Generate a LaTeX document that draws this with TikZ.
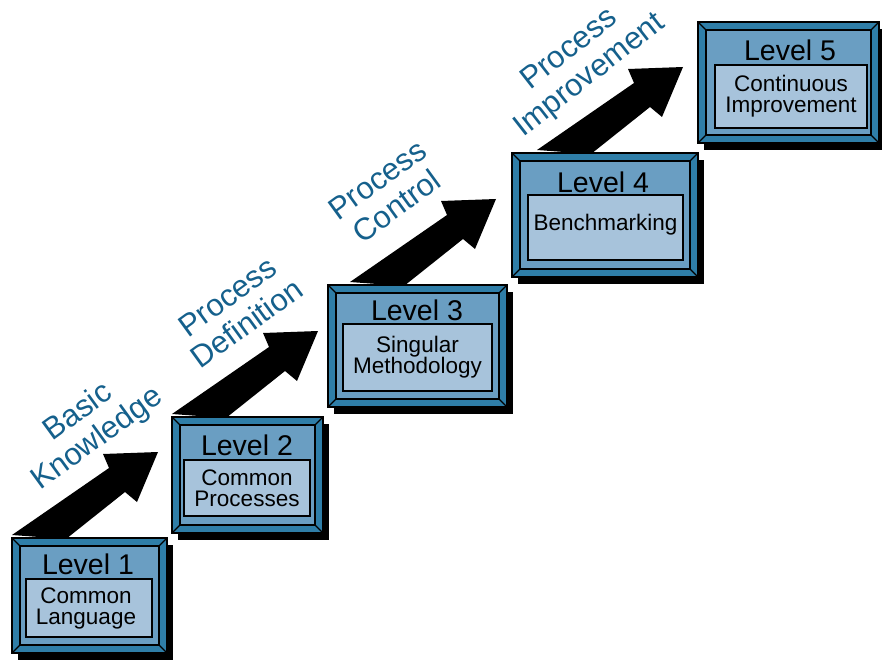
\documentclass[tikz,border=0pt]{standalone}
\usepackage{fontspec}
\setmainfont{Liberation Sans}
\usetikzlibrary{calc,fit,backgrounds}
\definecolor{bevelc}{HTML}{2F7EA8}
\definecolor{facec}{HTML}{6A9EC2}
\definecolor{labc}{HTML}{A7C3DB}
\definecolor{labtext}{HTML}{15608C}
\tikzset{
  bevelbox/.style={draw=black, fill=bevelc, line width=2pt, inner sep=0pt, outer sep=0pt},
  facebox/.style={draw=black, fill=facec, line width=1.3pt},
  cornerline/.style={draw=black, line width=1.2pt},
  labbox/.style={draw=black, fill=labc, line width=2pt, inner sep=0pt, outer sep=0pt},
  boxshadow/.style={fill=black},
  lvltext/.style={font=\fontsize{28.5}{28}\selectfont, inner sep=0pt},
  intext/.style={font=\fontsize{22.5}{21}\selectfont, align=center, inner sep=0pt},
  steptext/.style={text=labtext, font=\fontsize{31}{33}\selectfont, align=center, rotate=36, inner sep=0pt},
  bigarrow/.style={fill=black}
}
\newcommand\lvlbox[9]{%
  \fill[boxshadow] (#2+6,#3+7) rectangle (#4+6,#5+7);
  \coordinate (#1nw) at (#2,#3);
  \coordinate (#1se) at (#4,#5);
  \node[bevelbox, fit=(#1nw)(#1se)] (#1) {};
  \draw[facebox] (#2+8,#3+8) rectangle (#4-8,#5-8);
  \draw[cornerline] (#2,#3) -- (#2+8,#3+8) (#4,#3) -- (#4-8,#3+8)
    (#2,#5) -- (#2+8,#5-8) (#4,#5) -- (#4-8,#5-8);
  \coordinate (#1lnw) at (#6,#7);
  \coordinate (#1lse) at (#8,#9);
  \node[labbox, fit=(#1lnw)(#1lse)] (#1l) {};
}
\newcommand\arrowshape{(0,-3) -- (97,-70) -- (91,-84) -- (146,-86) -- (125,-36) -- (113,-46) -- (54,1) -- cycle}
\begin{document}
\begin{tikzpicture}[x=1pt,y=-1pt]
\useasboundingbox (0,0) rectangle (882,660);

% boxes
\lvlbox{b1}{12}{538}{167}{653}{26}{579}{152}{637}
\lvlbox{b2}{172}{417}{323}{533}{184}{460}{310}{516}
\lvlbox{b3}{328}{285}{507}{407}{343}{324}{492}{391}
\lvlbox{b4}{512}{153}{698}{277}{528}{195}{683}{260}
\lvlbox{b5}{698}{22}{879}{143}{715}{65}{867}{128}

% level titles
\node[lvltext] (t1) at (88,564) {Level 1};
\node[lvltext] (t2) at (247,445) {Level 2};
\node[lvltext] (t3) at (417,310) {Level 3};
\node[lvltext] (t4) at (603,182) {Level 4};
\node[lvltext] (t5) at (790,50) {Level 5};

% inner labels
\node[intext] (i1) at ($(b1l)+(-3,0)$) {Common\\Language};
\node[intext] (i2) at (b2l) {Common\\Processes};
\node[intext] (i3) at (b3l) {Singular\\Methodology};
\node[intext] (i4) at ($(b4l)+(0,-3)$) {Benchmarking};
\node[intext] (i5) at (b5l) {Continuous\\Improvement};

% arrows behind boxes
\begin{pgfonlayer}{background}
\fill[bigarrow, shift={(b1.north west)}] \arrowshape;
\fill[bigarrow, shift={(b2.north west)}] \arrowshape;
\fill[bigarrow, shift={($(b3.north west)+(22,0)$)}] \arrowshape;
\fill[bigarrow, shift={($(b4.north west)+(25,0)$)}] \arrowshape;
\end{pgfonlayer}

% step labels
\node[steptext] (s1) at (88,426) {Basic\\Knowledge};
\node[steptext] (s2) at (237,310) {Process\\Definition};
\node[steptext] (s3) at (387,193) {Process\\Control};
\node[steptext, rotate=2] (s4) at (580,63) {Process\\Improvement};
\end{tikzpicture}
\end{document}
